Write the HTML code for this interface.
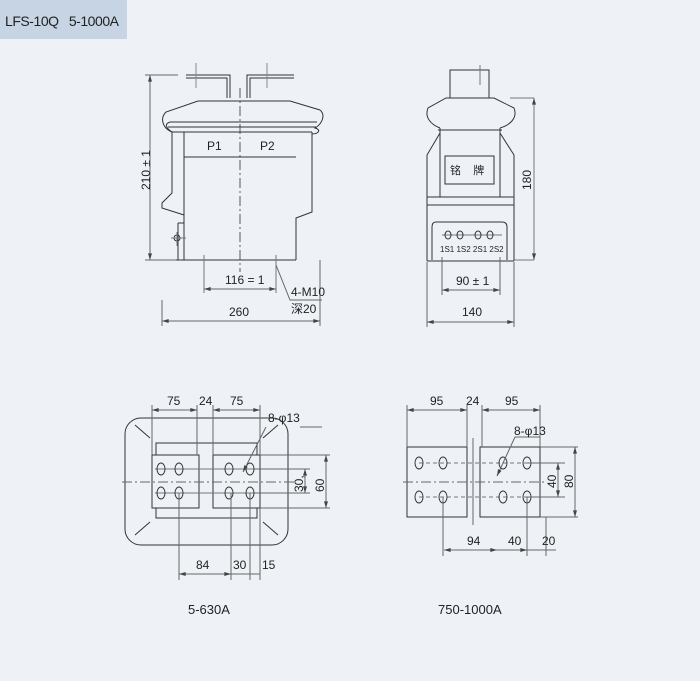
<!DOCTYPE html>
<html><head><meta charset="utf-8"><style>
html,body{margin:0;padding:0;background:#eef2f7;}
svg{display:block;font-family:"Liberation Sans","Noto Sans CJK SC",sans-serif;}
</style></head><body>
<svg width="700" height="681" viewBox="0 0 700 681" xmlns="http://www.w3.org/2000/svg">
<defs>
<marker id="a" viewBox="0 0 10 6" refX="10" refY="3" markerWidth="7" markerHeight="4" orient="auto-start-reverse"><path d="M0 0L10 3L0 6z" fill="#444"/></marker>
</defs>
<rect width="700" height="681" fill="#eef2f7"/>
<rect x="0" y="0" width="127" height="39" fill="#c6d4e4"/>
<text x="5" y="26" font-size="14" fill="#222" textLength="114">LFS-10Q&#160;&#160;&#160;5-1000A</text>
<g stroke="#333" stroke-width="1" fill="none">
<path d="M186 75H230V98M186 78H227V98"/>
<path d="M294 75H247V98M294 78H250V98"/>
<path d="M196 63V88M267 63V88" stroke="#888"/>
<path d="M240 88V272" stroke-dasharray="10,3,2,3" stroke="#555"/>
<path d="M172 132C162 128 160 118 166 112L198 101H290L320 110C326 115 322 124 315 128C322 130 318 134 312 134"/>
<path d="M172 132C166 128 164 124 170 122"/>
<path d="M170 122H317M168 127H316M172 132H312"/>
<path d="M172 132V193L162 203V208L184 215M184 132V260M178 223V260M184 223H178"/>
<path d="M312 132V212L296 218V260M176 260H296"/>
<path d="M184 157H296"/>
<circle cx="177" cy="238" r="3"/>
<path d="M171 238H186M177 232V246" stroke="#777"/>
<path d="M204 255V293M276 255V293" stroke="#777"/>
<g stroke="#666">
<path d="M204 289H276" marker-start="url(#a)" marker-end="url(#a)"/>
<path d="M150 75V260" marker-start="url(#a)" marker-end="url(#a)"/>
<path d="M162 321H320" marker-start="url(#a)" marker-end="url(#a)"/>
<path d="M145 75H178M145 260H176M320 260V326M162 300V326"/>
<path d="M276 265L290 300H322"/>
</g>
<rect x="450" y="70" width="39" height="28"/>
<path d="M480 65V85" stroke="#777"/>
<path d="M440 128C432 125 424 118 428 108L446 98H494L514 108C518 118 510 125 500 128M438 130H502M440 128V197H500V128"/>
<path d="M440 133L427 155V261M500 133L514 155V261M427 261H514M427 205H514M427 197H514"/>
<path d="M510 98H534M514 260H534" stroke="#777"/>
<path d="M534 98V260" stroke="#777" marker-start="url(#a)" marker-end="url(#a)"/>
<rect x="445" y="156" width="49" height="28"/>
<path d="M436 222H502Q507 222 507 227V260M432 260V227Q432 222 436 222"/>
<path d="M442 235H502" stroke="#777"/>
<ellipse cx="448" cy="235" rx="3" ry="4"/><ellipse cx="460" cy="235" rx="3" ry="4"/><ellipse cx="478" cy="235" rx="3" ry="4"/><ellipse cx="490" cy="235" rx="3" ry="4"/>
<g stroke="#666">
<path d="M442 257V295M500 257V295M427 262V327M514 262V327"/>
<path d="M442 290H500" marker-start="url(#a)" marker-end="url(#a)"/>
<path d="M427 322H514" marker-start="url(#a)" marker-end="url(#a)"/>
</g>
<rect x="125" y="418" width="163" height="127" rx="16"/>
<path d="M156 455V443H257V455M156 508V518H257V508"/>
<rect x="152" y="455" width="47" height="53"/><rect x="213" y="455" width="47" height="53"/>
<path d="M135 425L150 438M278 425L263 438M135 535L150 522M278 535L263 522"/>
<path d="M122 482H295" stroke-dasharray="10,3,2,3" stroke="#666"/>
<path d="M155 469H255M155 493H255" stroke="#777"/>
<ellipse cx="161" cy="469" rx="4" ry="6"/><ellipse cx="179" cy="469" rx="4" ry="6"/><ellipse cx="229" cy="469" rx="4" ry="6"/><ellipse cx="250" cy="469" rx="4" ry="6"/>
<ellipse cx="161" cy="493" rx="4" ry="6"/><ellipse cx="179" cy="493" rx="4" ry="6"/><ellipse cx="229" cy="493" rx="4" ry="6"/><ellipse cx="250" cy="493" rx="4" ry="6"/>
<g stroke="#666">
<path d="M152 405V455M197 405V455M213 405V455M260 405V455"/>
<path d="M152 410H197" marker-start="url(#a)" marker-end="url(#a)"/>
<path d="M213 410H260" marker-start="url(#a)" marker-end="url(#a)"/>
<path d="M179 493V580M231 493V580M250 493V580M260 508V580"/>
<path d="M179 574H231" marker-start="url(#a)" marker-end="url(#a)"/>
<path d="M231 574H250M250 574H260"/>
<path d="M260 455H330M255 469H310M255 493H310M260 508H330"/>
<path d="M305 469V493" marker-start="url(#a)" marker-end="url(#a)"/>
<path d="M326 455V508" marker-start="url(#a)" marker-end="url(#a)"/>
<path d="M300 427H322M266 427L243 472" marker-end="url(#a)"/>
</g>
<rect x="407" y="447" width="60" height="70"/><rect x="480" y="447" width="60" height="70"/>
<path d="M403 482H545" stroke-dasharray="10,3,2,3" stroke="#666"/>
<path d="M473 438V525" stroke="#666"/>
<path d="M419 463H527M419 497H527" stroke="#777" stroke-dasharray="4,3"/>
<ellipse cx="419" cy="463" rx="4" ry="6"/><ellipse cx="443" cy="463" rx="4" ry="6"/><ellipse cx="503" cy="463" rx="4" ry="6"/><ellipse cx="527" cy="463" rx="4" ry="6"/>
<ellipse cx="419" cy="497" rx="4" ry="6"/><ellipse cx="443" cy="497" rx="4" ry="6"/><ellipse cx="503" cy="497" rx="4" ry="6"/><ellipse cx="527" cy="497" rx="4" ry="6"/>
<g stroke="#666">
<path d="M407 405V447M467 405V447M482 405V447M540 405V447"/>
<path d="M407 410H467" marker-start="url(#a)" marker-end="url(#a)"/>
<path d="M482 410H540" marker-start="url(#a)" marker-end="url(#a)"/>
<path d="M443 497V556M527 497V556M546 517V556"/>
<path d="M444 550H497" marker-start="url(#a)" marker-end="url(#a)"/>
<path d="M497 550H527" marker-end="url(#a)"/>
<path d="M527 550H556"/>
<path d="M540 447H578M527 463H565M527 497H565M540 517H578"/>
<path d="M558 463V497" marker-start="url(#a)" marker-end="url(#a)"/>
<path d="M575 447V517" marker-start="url(#a)" marker-end="url(#a)"/>
<path d="M515 437H540M515 437L497 476" marker-end="url(#a)"/>
</g>
</g>
<g font-size="12" fill="#222">
<text x="207" y="150">P1</text><text x="260" y="150">P2</text>
<text x="225" y="284">116 = 1</text>
<text x="229" y="316">260</text>
<text x="291" y="296">4-M10</text>
<text x="291" y="313">深20</text>
<text transform="translate(150,190) rotate(-90)">210 ± 1</text>
<text x="450" y="174" font-size="11">铭&#160;&#160;&#160;&#160;牌</text>
<text x="440" y="252" font-size="8">1S1 1S2 2S1 2S2</text>
<text transform="translate(531,190) rotate(-90)">180</text>
<text x="456" y="285">90 ± 1</text>
<text x="462" y="316">140</text>
<text x="167" y="405">75</text><text x="199" y="405">24</text><text x="230" y="405">75</text>
<text x="268" y="422">8-φ13</text>
<text x="196" y="569">84</text><text x="233" y="569">30</text><text x="262" y="569">15</text>
<text transform="translate(303,492) rotate(-90)">30,</text>
<text transform="translate(324,492) rotate(-90)">60</text>
<text x="430" y="405">95</text><text x="466" y="405">24</text><text x="505" y="405">95</text>
<text x="514" y="435">8-φ13</text>
<text x="467" y="545">94</text><text x="508" y="545">40</text><text x="542" y="545">20</text>
<text transform="translate(556,488) rotate(-90)">40</text>
<text transform="translate(573,488) rotate(-90)">80</text>
<text x="188" y="614" font-size="13">5-630A</text>
<text x="438" y="614" font-size="13">750-1000A</text>
</g>
</svg>
</body></html>
